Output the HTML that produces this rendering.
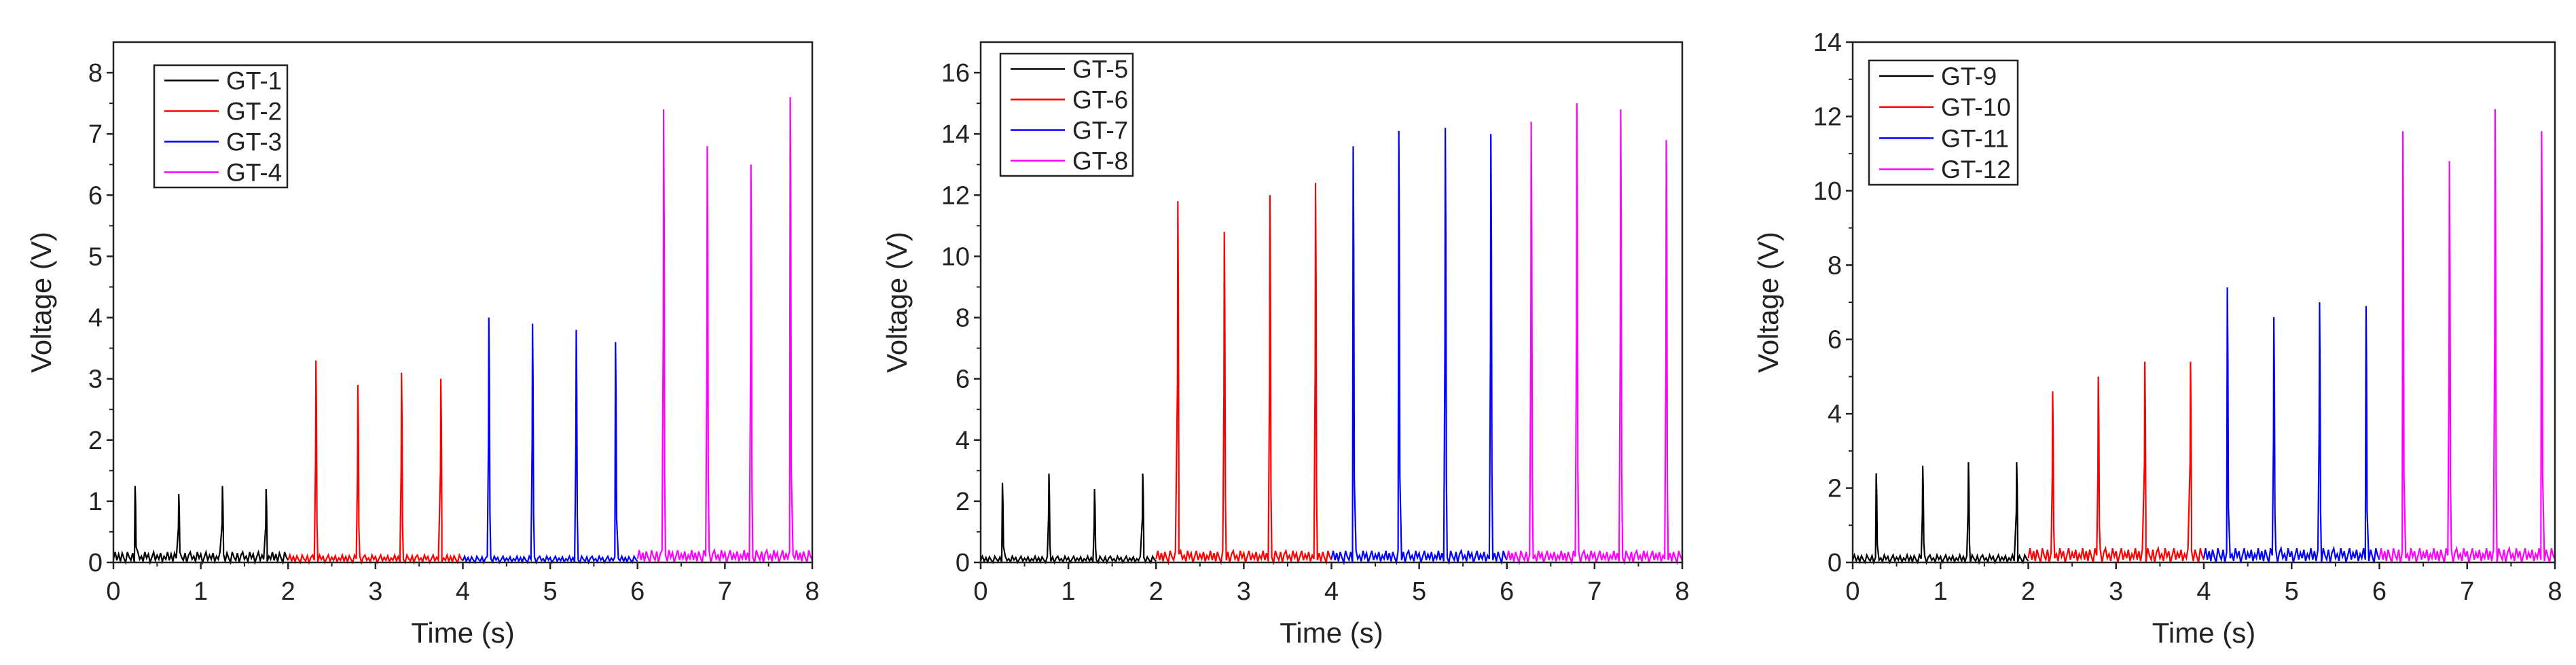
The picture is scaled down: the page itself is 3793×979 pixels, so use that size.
<!DOCTYPE html>
<html><head><meta charset="utf-8"><style>
html,body{margin:0;padding:0;background:#fff;overflow:hidden;}
svg{display:block;font-family:"Liberation Sans",Arial,sans-serif;}
</style></head><body>
<svg id="chart" width="3793" height="979" viewBox="0 0 3793 979" xmlns="http://www.w3.org/2000/svg"></svg>
<script>
// ---- data ----
const seriesNames1 = ["GT-1","GT-2","GT-3","GT-4"];
const peakTimes1 = [[0.25,0.75,1.25,1.75],[2.32,2.8,3.3,3.75],[4.3,4.8,5.3,5.75],[6.3,6.8,7.3,7.75]];
const peakValues1 = [[1.25,1.12,1.25,1.2],[3.3,2.9,3.1,3.0],[4.0,3.9,3.8,3.6],[7.4,6.8,6.5,7.6]];
const baseline1 = [0.17,0.12,0.10,0.20];
const seriesNames2 = ["GT-5","GT-6","GT-7","GT-8"];
const peakTimes2 = [[0.25,0.78,1.3,1.85],[2.25,2.78,3.3,3.82],[4.25,4.77,5.3,5.82],[6.28,6.8,7.3,7.82]];
const peakValues2 = [[2.6,2.9,2.4,2.9],[11.8,10.8,12.0,12.4],[13.6,14.1,14.2,14.0],[14.4,15.0,14.8,13.8]];
const baseline2 = [0.2,0.38,0.38,0.38];
const seriesNames3 = ["GT-9","GT-10","GT-11","GT-12"];
const peakTimes3 = [[0.27,0.8,1.32,1.87],[2.28,2.8,3.33,3.85],[4.27,4.8,5.32,5.85],[6.27,6.8,7.32,7.85]];
const peakValues3 = [[2.4,2.6,2.7,2.7],[4.6,5.0,5.4,5.4],[7.4,6.6,7.0,6.9],[11.6,10.8,12.2,11.6]];
const baseline3 = [0.2,0.38,0.38,0.38];
const noisePattern = [0.3,1.0,0.2,0.8,0.1,0.9,0.4,0.0,1.0,0.5,0.2,0.9,0.0,0.7,1.0,0.3,0.6,0.1,1.0,0.4,0.8,0.0,0.5,1.0,0.2,0.7,0.3,0.9,0.1,0.6];
const xTicks = [0,1,2,3,4,5,6,7,8];
const yTicks1 = [0,1,2,3,4,5,6,7,8];
const yTicks2 = [0,2,4,6,8,10,12,14,16];
const yTicks3 = [0,2,4,6,8,10,12,14];
const colors = ["#000000","#ff0000","#0000ff","#ff00ff"];

const NS="http://www.w3.org/2000/svg";
const svg=document.getElementById('chart');
function mk(tag,attrs,parent){const e=document.createElementNS(NS,tag);for(const k in attrs)e.setAttribute(k,attrs[k]);(parent||svg).appendChild(e);return e;}

function panel(cfg){
  const g=mk('g',{});
  
  
  const L=cfg.left,R=cfg.right,T=62,B=828;
  const xs=t=>L+(t/8)*(R-L);
  const ys=v=>B-(v/cfg.ymax)*(B-T);
  const dt=0.02;
  for(let s=0;s<4;s++){
    const pts=[];const t0=2*s;const times=cfg.times[s];const vals=cfg.vals[s];
    let i=0;
    for(let t=t0;t<=t0+2.0001;t+=dt){
      let near=-1;
      for(let k=0;k<times.length;k++){ if(Math.abs(t-times[k])<dt/2) near=k; }
      if(near>=0){
        const tp=times[near],pv=vals[near];
        pts.push([xs(tp-0.006),ys(pv*0.5)]);
        pts.push([xs(tp-0.002),ys(pv)]);
        pts.push([xs(tp+0.004),ys(pv*0.75)]);
        pts.push([xs(tp+0.01),ys(pv*0.2)]);
      } else {
        pts.push([xs(t),ys(noisePattern[i%noisePattern.length]*cfg.base[s])]);
      }
      i++;
    }
    const p=mk('polyline',{points:pts.map(q=>q[0].toFixed(1)+','+q[1].toFixed(1)).join(' '),fill:'none',stroke:colors[s],'stroke-width':2.2,'stroke-linejoin':'miter'},g);
    
    
  }
  const fr=mk('rect',{x:L,y:T,width:R-L,height:B-T,fill:'none',stroke:'#222','stroke-width':2.5},g);
  
  
  xTicks.forEach((t,k)=>{
    mk('line',{x1:xs(t),x2:xs(t),y1:B,y2:B+10,stroke:'#222','stroke-width':2.5},g);
    if(k<xTicks.length-1) mk('line',{x1:xs(t+0.5),x2:xs(t+0.5),y1:B,y2:B+6,stroke:'#222','stroke-width':2},g);
    const tx=mk('text',{x:xs(t),y:883,'font-size':38,'text-anchor':'middle',fill:'#222'},g);
    tx.textContent=t;
    
    
  });
  const step=cfg.yt[1]-cfg.yt[0];
  cfg.yt.forEach(v=>{
    mk('line',{x1:L-10,x2:L,y1:ys(v),y2:ys(v),stroke:'#222','stroke-width':2.5},g);
    if(v+step/2<cfg.ymax) mk('line',{x1:L-6,x2:L,y1:ys(v+step/2),y2:ys(v+step/2),stroke:'#222','stroke-width':2},g);
    const tx=mk('text',{x:L-16,y:ys(v)+13,'font-size':38,'text-anchor':'end',fill:'#222'},g);
    tx.textContent=v;
    
    
  });
  const xt=mk('text',{x:(L+R)/2,y:946,'font-size':42,'text-anchor':'middle',fill:'#222'},g);
  xt.textContent='Time (s)';
  
  
  const yt=mk('text',{x:0,y:0,'font-size':42,'text-anchor':'middle',fill:'#222',transform:`translate(${cfg.ytx},445) rotate(-90)`},g);
  yt.textContent='Voltage (V)';
  
  
  const lg=cfg.leg;
  const lb=mk('rect',{x:lg[0],y:lg[1],width:lg[2]-lg[0],height:lg[3]-lg[1],fill:'#fff',stroke:'#222','stroke-width':2.5},g);
  
  
  const rh=(lg[3]-lg[1])/4;
  for(let s=0;s<4;s++){
    const cy=lg[1]+rh*(s+0.5);
    mk('line',{x1:lg[0]+15,x2:lg[0]+95,y1:cy,y2:cy,stroke:colors[s],'stroke-width':2.5},g);
    const tx=mk('text',{x:lg[0]+106,y:cy+13,'font-size':37,fill:'#222'},g);
    tx.textContent=cfg.names[s];
    
    
  }
}
panel({id:'panel-1',left:167,right:1196,ymax:8.5,yt:yTicks1,names:seriesNames1,times:peakTimes1,vals:peakValues1,base:baseline1,ytx:75,leg:[227,96,423,276]});
panel({id:'panel-2',left:1444,right:2477,ymax:17,yt:yTicks2,names:seriesNames2,times:peakTimes2,vals:peakValues2,base:baseline2,ytx:1335,leg:[1473,79,1668,259]});
panel({id:'panel-3',left:2728,right:3762,ymax:14,yt:yTicks3,names:seriesNames3,times:peakTimes3,vals:peakValues3,base:baseline3,ytx:2618,leg:[2752,89,2971,272]});
</script>
</body></html>
